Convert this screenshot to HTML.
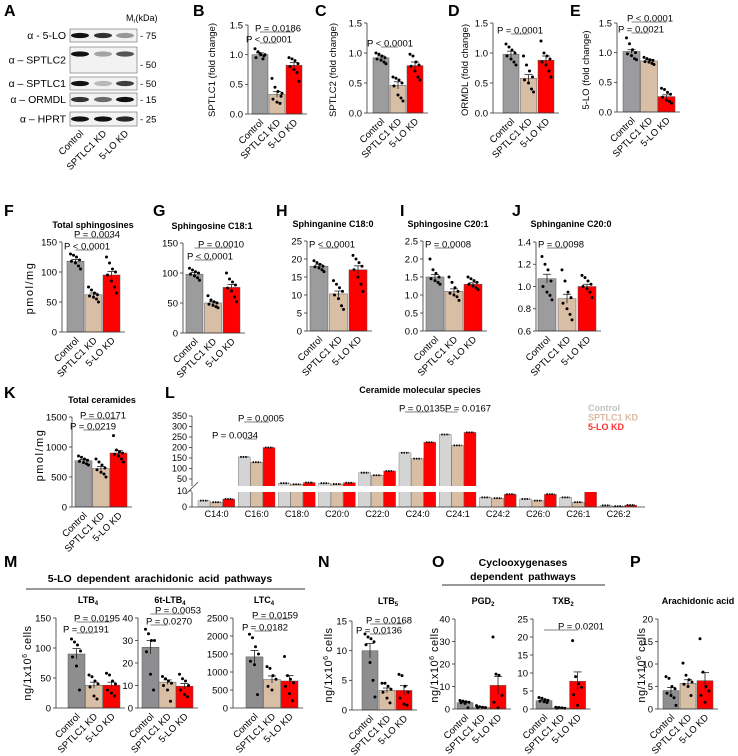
<!DOCTYPE html>
<html><head><meta charset="utf-8"><style>
html,body{margin:0;padding:0;background:#fff}
svg{display:block;font-family:"Liberation Sans",Arial,sans-serif}
</style></head><body>
<svg id="fig" width="738" height="756" viewBox="0 0 738 756" xmlns="http://www.w3.org/2000/svg">
<g id="blot"></g>
<g id="panels"></g>
<g id="ceramide"></g>
</svg>
<script>
// ---------- data ----------
const groups=["Control","SPTLC1 KD","5-LO KD"];
const bMeans=[1.0,0.33,0.82], bSem=[0.03,0.05,0.05];
const bDots=[[1.1,1.05,1.0,0.98,0.95,1.02,0.93,1.0],[0.6,0.45,0.38,0.3,0.25,0.2,0.18,0.35],[0.95,0.93,0.9,0.85,0.8,0.75,0.7,0.55]];
const cMeans=[0.92,0.46,0.79], cSem=[0.03,0.06,0.06];
const cDots=[[1.0,0.98,0.95,0.92,0.9,0.88,0.85,0.82],[0.6,0.58,0.55,0.5,0.45,0.3,0.25,0.2],[0.98,0.95,0.85,0.8,0.78,0.7,0.6,0.55]];
const dMeans=[0.98,0.58,0.88], dSem=[0.05,0.06,0.07];
const dDots=[[1.15,1.1,1.05,1.0,0.95,0.9,0.85,0.8],[0.95,0.8,0.7,0.6,0.55,0.5,0.4,0.35],[1.2,1.0,0.95,0.9,0.85,0.8,0.7,0.6]];
const eMeans=[1.02,0.86,0.26], eSem=[0.03,0.02,0.03];
const eDots=[[1.25,1.15,1.05,1.0,0.98,0.95,0.9,0.88],[0.92,0.9,0.88,0.87,0.85,0.84,0.82,0.8],[0.4,0.38,0.33,0.3,0.25,0.2,0.18,0.15]];
const fMeans=[118,62,95], fSem=[3,3,6];
const fDots=[[130,128,125,120,118,115,110,105],[75,70,65,62,60,58,55,50],[125,115,105,100,95,85,75,65]];
const gMeans=[98,50,76], gSem=[3,2,5];
const gDots=[[108,105,102,100,98,95,92,88],[62,55,52,50,48,46,44,42],[100,90,85,80,75,70,60,52]];
const hMeans=[18,10.3,17], hSem=[0.4,0.8,1.1];
const hDots=[[19.5,19,18.5,18,17.8,17.5,17,16.5],[14,13,12,11,10,9,7,6],[21,20,19,18,17,15,13,11]];
const iMeans=[1.5,1.1,1.3], iSem=[0.07,0.07,0.04];
const iDots=[[2.0,1.7,1.6,1.5,1.45,1.4,1.35,1.3],[1.5,1.35,1.2,1.1,1.05,1.0,0.95,0.85],[1.5,1.45,1.4,1.35,1.3,1.25,1.2,1.15]];
const jMeans=[1.07,0.89,1.0], jSem=[0.04,0.04,0.02];
const jDots=[[1.27,1.2,1.15,1.05,1.0,0.95,0.92,0.88],[1.15,1.05,0.95,0.9,0.85,0.8,0.75,0.7],[1.1,1.08,1.05,1.02,1.0,0.98,0.95,0.9]];
const kMeans=[770,640,900], kSem=[20,35,40];
const kDots=[[850,830,800,780,760,740,720,700],[800,750,700,650,620,580,550,500],[1190,950,920,900,880,850,800,750]];
const ltb4Means=[90,38,38], ltb4Sem=[9,5,5];
const ltb4Dots=[[115,110,105,95,85,70,30],[55,52,45,40,35,20,15],[58,55,45,40,30,25,20]];
const t6Means=[27,11.5,9.7], t6Sem=[3,1,1.2];
const t6Dots=[[35,33,30,30,25,15,8],[14,13,12,11,10,8,3],[15,13,12,10,8,6,5]];
const ltc4Means=[1420,790,750], ltc4Sem=[180,100,150];
const ltc4Dots=[[2050,1950,1700,1500,1300,1200,370],[1150,1100,900,800,600,500],[1430,900,800,700,600,400,200]];
const ltb5Means=[10,3.3,3.3], ltb5Sem=[1.2,0.4,0.8];
const ltb5Dots=[[12.8,12.3,12,11.5,11,8,5,2.2],[4.5,4.5,4,3.5,3,2,1.2],[6,5.8,4,3,2,1,0.8]];
const pgd2Means=[2.8,0.8,10.5], pgd2Sem=[0.3,0.1,4];
const pgd2Dots=[[3.8,3.5,3.2,3,2.8,2.5,0.5],[1.5,1,0.8,0.6,0.5],[32,15.5,15,6,3,0.5]];
const txb2Means=[2.3,0.3,7.7], txb2Sem=[0.2,0.05,2.6];
const txb2Dots=[[3.2,3,2.6,2.4,2.2,2,1.8],[0.5,0.4,0.3,0.2,0.2],[19,9,7,6,4,1]];
const aaMeans=[4.1,5.7,6.3], aaSem=[0.7,0.8,1.8];
const aaDots=[[7.2,6.8,5,4.5,3.5,3,2.5,0.8],[10.2,7.5,6.5,6,5.5,5,3],[15.6,8.2,5,4,3,1.5]];
// Ceramide species
const lCats=["C14:0","C16:0","C18:0","C20:0","C22:0","C24:0","C24:1","C24:2","C26:0","C26:1","C26:2"];
const lCtrl=[4,155,30,30,80,175,262,6,5,6,1];
const lSptlc=[3,130,25,26,68,147,210,5.5,4,3,0.5];
const lLo=[5,200,33,32,88,225,272,8,8,11,1.2];
const lPvals=[["P = 0.0034",1,1],["P = 0.0005",1,2],["P = 0.0135",5,2],["P = 0.0167",6,1]];
const lPvalLayout=[[439,212],[422,238],[412,399],[412,445]];

// ---------- helpers ----------
const NS="http://www.w3.org/2000/svg";
const svg=document.getElementById('fig');
function mk(tag,attrs,parent,txt){const e=document.createElementNS(NS,tag);for(const k in attrs)e.setAttribute(k,attrs[k]);if(txt!==undefined)e.textContent=txt;(parent||svg).appendChild(e);return e;}
const COLS1=["#9c9c9e","#d9bea6","#ff0000"];
const COLS4=["#8e8e90","#d9bea6","#ff0000"];
const jit=[-5,-2,1,4,-4,0,3,5,-1];

function panel(c){
  const g=mk('g',{});
  
  
  const ymap=v=>c.y0-(v-c.min)/(c.max-c.min)*(c.y0-c.y1);
  const axEnd=c.bx+2*c.st+c.bw+5;
  c.means.forEach((m,i)=>{
    const x=c.bx+i*c.st, y=ymap(m);
    const r=mk('rect',{x:x,y:y,width:c.bw,height:c.y0-y,fill:c.cols[i],stroke:"#555","stroke-width":0.5},g);
    
    
    const cx=x+c.bw/2, ys=ymap(m+c.sem[i]), yl=ymap(m-c.sem[i]);
    mk('line',{x1:cx,x2:cx,y1:ys,y2:yl,stroke:"#222","stroke-width":0.8},g);
    mk('line',{x1:cx-4,x2:cx+4,y1:ys,y2:ys,stroke:"#222","stroke-width":0.8},g);
    c.dots[i].forEach((v,k)=>{
      const d=mk('circle',{cx:cx+jit[k%9],cy:ymap(v),r:1.5,fill:"#000"},g);
      
      
    });
    const t=mk('text',{x:0,y:0,"font-size":9.5,"text-anchor":"end",transform:`translate(${cx+4},${c.y0+9}) rotate(-45)`},g,groups[i]);
    
    
  });
  mk('line',{x1:c.ax,x2:c.ax,y1:c.y1,y2:c.y0,stroke:"#333","stroke-width":0.8},g);
  mk('line',{x1:c.ax,x2:axEnd,y1:c.y0,y2:c.y0,stroke:"#333","stroke-width":0.8},g);
  c.ticks.forEach(v=>{
    const y=ymap(v);
    mk('line',{x1:c.ax-3,x2:c.ax,y1:y,y2:y,stroke:"#333","stroke-width":0.8},g);
    const t=mk('text',{x:c.ax-5,y:y+3.3,"font-size":9.5,"text-anchor":"end"},g,c.fmt(v));
    
    
  });
  if(c.title){const t=mk('text',{x:c.tx,y:c.ty,"font-size":9,"font-weight":"bold","text-anchor":"middle"},g);
    t.innerHTML=c.title;
    
    }
  if(c.ylab){const t=mk('text',{x:0,y:0,"font-size":c.ylfs||9.5,"text-anchor":"middle","letter-spacing":c.yls||0,transform:`translate(${c.ylx},${c.yly}) rotate(-90)`},g);
    t.innerHTML=c.ylab;
    
    }
  (c.pv||[]).forEach(p=>{
    const [txt,j,ly,tx]=p;
    const x1=c.bx+c.bw/2, x2=c.bx+j*c.st+c.bw/2;
    mk('line',{x1:x1,x2:x2,y1:ly,y2:ly,stroke:"#555","stroke-width":0.7},g);
    const t=mk('text',{x:tx,y:ly-0.5,"font-size":9.5},g,txt);
    
    
  });
}
const f1=v=>v.toFixed(1), f0=v=>String(v);
const sub=(a,b)=>`${a}<tspan font-size="6" dy="2">${b}</tspan>`;
const NGL='ng/1x10<tspan font-size="7" dy="-4">6</tspan><tspan dy="4"> cells</tspan>';

panel({name:'panel-b-sptlc1',means:bMeans,sem:bSem,dots:bDots,cols:COLS1,ax:248,bx:252,bw:16,st:17,y0:114,y1:25,min:0,max:1.5,ticks:[0,0.5,1,1.5],fmt:f1,ylab:'SPTLC1 (fold change)',ylx:215,yly:70,pv:[["P = 0.0186",2,32,255],["P < 0.0001",1,43,246]]});
panel({name:'panel-c-sptlc2',means:cMeans,sem:cSem,dots:cDots,cols:COLS1,ax:367,bx:373,bw:16,st:17,y0:113,y1:23,min:0,max:1.5,ticks:[0,0.5,1,1.5],fmt:f1,ylab:'SPTLC2 (fold change)',ylx:336,yly:70,pv:[["P < 0.0001",1,47,367]]});
panel({name:'panel-d-ormdl',means:dMeans,sem:dSem,dots:dDots,cols:COLS1,ax:493,bx:503,bw:16,st:17.5,y0:113,y1:23,min:0,max:1.5,ticks:[0,0.5,1,1.5],fmt:f1,ylab:'ORMDL (fold change)',ylx:468,yly:70,pv:[["P = 0.0001",1,34,497]]});
panel({name:'panel-e-5lo',means:eMeans,sem:eSem,dots:eDots,cols:COLS1,ax:617,bx:623,bw:17,st:17.5,y0:112,y1:23,min:0,max:1.5,ticks:[0,0.5,1,1.5],fmt:f1,ylab:'5-LO (fold change)',ylx:589,yly:70,pv:[["P < 0.0001",2,22,627],["P = 0.0021",1,33,618]]});
panel({name:'panel-f-total-sphingosines',means:fMeans,sem:fSem,dots:fDots,cols:COLS1,ax:62,bx:67,bw:17,st:18,y0:332,y1:242,min:0,max:150,ticks:[0,50,100,150],fmt:f0,title:'Total sphingosines',tx:93,ty:228,ylab:'pmol/mg',ylx:33,yly:288,ylfs:11,yls:1.5,pv:[["P = 0.0034",2,238,74],["P < 0.0001",1,250,64]]});
panel({name:'panel-g-sphingosine-c18-1',means:gMeans,sem:gSem,dots:gDots,cols:COLS1,ax:183,bx:186,bw:17,st:18.5,y0:333,y1:243,min:0,max:150,ticks:[0,50,100,150],fmt:f0,title:'Sphingosine C18:1',tx:212,ty:229,pv:[["P = 0.0010",2,248,198],["P < 0.0001",1,260,187]]});
panel({name:'panel-h-sphinganine-c18-0',means:hMeans,sem:hSem,dots:hDots,cols:COLS1,ax:307,bx:310,bw:18,st:19.5,y0:331,y1:241,min:0,max:25,ticks:[0,5,10,15,20,25],fmt:f0,title:'Sphinganine C18:0',tx:333,ty:227,pv:[["P < 0.0001",1,248,309]]});
panel({name:'panel-i-sphingosine-c20-1',means:iMeans,sem:iSem,dots:iDots,cols:COLS1,ax:423,bx:426,bw:18,st:19,y0:331,y1:241,min:0,max:2.5,ticks:[0,0.5,1,1.5,2,2.5],fmt:f1,title:'Sphingosine C20:1',tx:448,ty:227,pv:[["P = 0.0008",1,248,425]]});
panel({name:'panel-j-sphinganine-c20-0',means:jMeans,sem:jSem,dots:jDots,cols:COLS1,ax:536,bx:538,bw:18,st:20,y0:331,y1:242,min:0.6,max:1.4,ticks:[0.6,0.8,1.0,1.2,1.4],fmt:f1,title:'Sphinganine C20:0',tx:571,ty:227,pv:[["P = 0.0098",1,248,538]]});
panel({name:'panel-k-total-ceramides',means:kMeans,sem:kSem,dots:kDots,cols:COLS1,ax:72,bx:75,bw:17,st:17.5,y0:507,y1:417,min:0,max:1500,ticks:[0,500,1000,1500],fmt:f0,title:'Total ceramides',tx:102,ty:403,ylab:'pmol/mg',ylx:43,yly:455,ylfs:11,yls:1.5,pv:[["P = 0.0171",2,419,80],["P = 0.0219",1,430,70]]});
panel({name:'panel-m-ltb4',means:ltb4Means,sem:ltb4Sem,dots:ltb4Dots,cols:COLS4,ax:56,bx:68,bw:17,st:17.5,y0:708,y1:618,min:0,max:150,ticks:[0,50,100,150],fmt:f0,title:sub('LTB','4'),tx:88,ty:603,ylab:NGL,ylx:31,yly:663,ylfs:11,yls:0.5,pv:[["P = 0.0195",2,622,74],["P = 0.0191",1,633,63]]});
panel({name:'panel-m-6t-ltb4',means:t6Means,sem:t6Sem,dots:t6Dots,cols:COLS4,ax:138,bx:142,bw:17,st:17,y0:708,y1:618,min:0,max:40,ticks:[0,10,20,30,40],fmt:f0,title:sub('6t-LTB','4'),tx:170,ty:603,pv:[["P = 0.0053",2,614,155],["P = 0.0270",1,625,146]]});
panel({name:'panel-m-ltc4',means:ltc4Means,sem:ltc4Sem,dots:ltc4Dots,cols:COLS4,ax:233,bx:246,bw:17,st:17.5,y0:708,y1:618,min:0,max:2500,ticks:[0,500,1000,1500,2000,2500],fmt:f0,title:sub('LTC','4'),tx:264,ty:603,pv:[["P = 0.0159",2,619,252],["P = 0.0182",1,631,242]]});
panel({name:'panel-n-ltb5',means:ltb5Means,sem:ltb5Sem,dots:ltb5Dots,cols:COLS4,ax:352,bx:362,bw:16,st:17,y0:710,y1:621,min:0,max:15,ticks:[0,5,10,15],fmt:f0,title:sub('LTB','5'),tx:388,ty:604,ylab:NGL,ylx:332,yly:665,ylfs:11,yls:0.5,pv:[["P = 0.0168",2,624,366],["P = 0.0136",1,634,356]]});
panel({name:'panel-o-pgd2',means:pgd2Means,sem:pgd2Sem,dots:pgd2Dots,cols:COLS4,ax:455,bx:457,bw:16,st:16.5,y0:709,y1:619,min:0,max:40,ticks:[0,10,20,30,40],fmt:f0,title:sub('PGD','2'),tx:483,ty:604,ylab:NGL,ylx:438,yly:665,ylfs:11,yls:0.5});
panel({name:'panel-o-txb2',means:txb2Means,sem:txb2Sem,dots:txb2Dots,cols:COLS4,ax:533,bx:536,bw:16,st:16.8,y0:709,y1:619,min:0,max:25,ticks:[0,5,10,15,20,25],fmt:f0,title:sub('TXB','2'),tx:563,ty:604,pv:[["P = 0.0201",2,630,558]]});
panel({name:'panel-p-arachidonic-acid',means:aaMeans,sem:aaSem,dots:aaDots,cols:COLS4,ax:658,bx:663,bw:16,st:17,y0:709,y1:619,min:0,max:20,ticks:[0,5,10,15,20],fmt:f0,title:'Arachidonic acid',tx:698,ty:604,ylab:NGL,ylx:645,yly:665,ylfs:11,yls:0.5});

// ---------- Ceramide broken-axis chart ----------
(function(){
  const g=document.getElementById('ceramide');
  const base=507;
  const ymap=v=> v<=10 ? base-1.6*v : 479-(v-50)*0.21;
  const cols=["#d4d4d4","#d9bea6","#ff0000"];
  const series=[lCtrl,lSptlc,lLo];
  lCats.forEach((cat,gi)=>{
    const gx=198+gi*40.2;
    series.forEach((s,k)=>{
      const x=gx+k*12.4, y=ymap(s[gi]);
      const r=mk('rect',{x:x,y:y,width:12,height:base-y,fill:cols[k],stroke:"#666","stroke-width":0.4},g);
      
      
      mk('line',{x1:x+2,x2:x+10,y1:y,y2:y,stroke:"#000","stroke-width":1.8,"stroke-dasharray":"1.5 1"},g);
    });
    const t=mk('text',{x:gx+18.6,y:517,"font-size":9,"text-anchor":"middle"},g,cat);
    
    
  });
  mk('rect',{x:192,y:486,width:460,height:6,fill:"#fff"},g);
  mk('line',{x1:192,x2:192,y1:416,y2:486,stroke:"#333","stroke-width":0.8},g);
  mk('line',{x1:192,x2:192,y1:492,y2:base,stroke:"#333","stroke-width":0.8},g);
  mk('line',{x1:186,x2:198,y1:494,y2:482,stroke:"#333","stroke-width":0.8},g);
  mk('line',{x1:192,x2:645,y1:base,y2:base,stroke:"#333","stroke-width":0.8},g);
  [0,10,50,100,150,200,250,300,350].forEach(v=>{
    const y=ymap(v);
    mk('line',{x1:189,x2:192,y1:y,y2:y,stroke:"#333","stroke-width":0.8},g);
    const t=mk('text',{x:187,y:y+3,"font-size":9,"text-anchor":"end"},g,String(v));
    
    
  });
  lPvals.forEach((p,pi)=>{
    const [txt,gi,j]=p, gx=198+gi*40.2;
    const [ly,tx]=lPvalLayout[pi];
    mk('line',{x1:gx+6,x2:gx+j*12.4+6,y1:ly,y2:ly,stroke:"#555","stroke-width":0.7},g);
    const t=mk('text',{x:tx,y:ly-0.5,"font-size":9.5},g,txt);
    
    
  });
  const tt=mk('text',{x:420,y:393,"font-size":9,"font-weight":"bold","text-anchor":"middle"},g,'Ceramide molecular species');
  
  
  ["Control","SPTLC1 KD","5-LO KD"].forEach((n,i)=>{
    const t=mk('text',{x:588,y:411+i*9.5,"font-size":9,"font-weight":"bold",fill:["#c4c4c4","#dcb8a0","#ff3030"][i]},g,n);
    
    
  });
})();

// ---------- Western blot ----------
(function(){
  const g=document.getElementById('blot');
  const rows=[["α - 5-LO",29,42,"- 75",[1,0.85,0.4]],["α – SPTLC2",47,73,"",[1,0.35,0.7]],["α – SPTLC1",77,90,"- 50",[1,0.25,0.8]],["α – ORMDL",93,106,"- 15",[0.85,0.6,1]],["α – HPRT",112,126,"- 25",[1,1,0.9]]];
  rows.forEach(r=>{
    const [lab,y1,y2,mw,ints]=r;
    mk('rect',{x:70,y:y1,width:67,height:y2-y1,fill:"#f2f2f2",stroke:"#666","stroke-width":0.6},g);
    const by=lab.indexOf('SPTLC2')>0?y1+7:(y1+y2)/2;
    [80,103,125].forEach((cx,i)=>{
      mk('ellipse',{cx:cx,cy:by,rx:9,ry:2.6,fill:"#111","fill-opacity":ints[i]},g);
    });
    const t=mk('text',{x:66,y:(y1+y2)/2+3.5,"font-size":10.5,"text-anchor":"end"},g,lab);
    
    
    if(mw){mk('text',{x:140,y:(y1+y2)/2+3.5,"font-size":9.5},g,mw);}
  });
  mk('text',{x:140,y:68,"font-size":9.5},g,'- 50');
  const m=mk('text',{x:126,y:21,"font-size":9},g);
  m.innerHTML='M<tspan font-size="6" dy="2">r</tspan><tspan dy="-2">(kDa)</tspan>';
  ["Control","SPTLC1 KD","5-LO KD"].forEach((n,i)=>{
    const cx=[80,103,125][i];
    const t=mk('text',{x:0,y:0,"font-size":9.5,"text-anchor":"end",transform:`translate(${cx+4},${134}) rotate(-45)`},g,n);
    
    
  });
})();

[["A",4,16],["B",193,16],["C",315,16],["D",448,16],["E",570,16],["F",4,216],["G",153,216],["H",276,216],["I",400,216],["J",512,216],["K",4,398],["L",165,398],["M",4,567],["N",318,567],["O",432,567],["P",630,567]].forEach(p=>{
  const t=mk('text',{x:p[1],y:p[2],"font-size":16,"font-weight":"bold"},svg,p[0]);
  
  
});
let h=mk('text',{x:160,y:582,"font-size":10.5,"font-weight":"bold","text-anchor":"middle","word-spacing":2},svg,'5-LO dependent arachidonic acid pathways');


mk('line',{x1:26,x2:305,y1:589,y2:589,stroke:"#333","stroke-width":1});
h=mk('text',{x:523,y:566,"font-size":10.5,"font-weight":"bold","text-anchor":"middle"},svg,'Cyclooxygenases');


mk('text',{x:523,y:580,"font-size":10.5,"font-weight":"bold","text-anchor":"middle","word-spacing":2},svg,'dependent pathways');
mk('line',{x1:442,x2:605,y1:585,y2:585,stroke:"#333","stroke-width":1});
</script>
</body></html>
